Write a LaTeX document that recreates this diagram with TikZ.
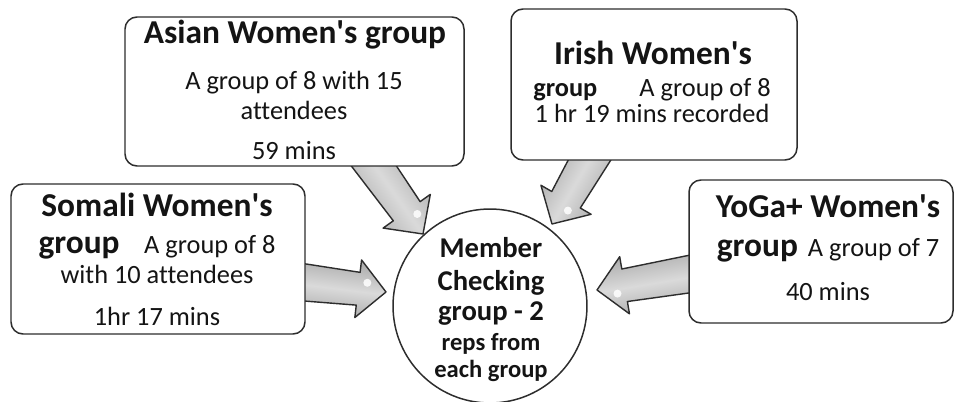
\documentclass[tikz,border=0pt]{standalone}
\usepackage{fontspec}
\setmainfont{Carlito}[Ligatures={NoCommon}]
\usetikzlibrary{calc,fit}

\definecolor{edgecol}{RGB}{45,45,45}
\definecolor{inkcol}{RGB}{20,20,20}
\definecolor{arrowdark}{RGB}{168,168,168}
\definecolor{arrowlight}{RGB}{218,218,218}

\newcommand{\titlefont}{\fontsize{19}{22}\selectfont\bfseries}
\newcommand{\bodyfont}{\fontsize{15}{18}\selectfont}
\newcommand{\apos}{\textquotesingle}

% broad shaded block arrow from a tail point to a tip point
% #1 tail coordinate, #2 tip coordinate, #3 shading angle
\newcommand{\blockarrow}[3]{%
  \coordinate (#1-neck) at ($(#2)!0.56cm!(#1)$);
  \path[arrowbody, shading angle=#3]
    ($(#1)!0.38cm!90:(#2)$) --
    ($(#1-neck)!0.33cm!90:(#2)$) --
    ($(#1-neck)!0.58cm!90:(#2)$) --
    (#2) --
    ($(#1-neck)!0.58cm!-90:(#2)$) --
    ($(#1-neck)!0.33cm!-90:(#2)$) --
    ($(#1)!0.38cm!-90:(#2)$) -- cycle;
  \fill[white, opacity=0.85]
    ($($(#1-neck)!0.3!(#2)$)!0.14cm!90:(#2)$) circle[radius=0.08cm];
}

\tikzset{
  panel/.style={draw=edgecol, line width=0.85pt, rounded corners=0.24cm,
    fill=white, inner sep=0pt},
  hub/.style={draw=edgecol, line width=0.85pt, circle, inner sep=0pt,
    minimum size=3.88cm},
  ttl/.style={font=\titlefont, text=inkcol, anchor=base, inner sep=0pt},
  txt/.style={font=\bodyfont, text=inkcol, anchor=base, inner sep=0pt},
  hubbig/.style={font=\fontsize{16.3}{19}\selectfont\bfseries, text=inkcol,
    anchor=base, inner sep=0pt},
  hubsmall/.style={font=\fontsize{14}{17}\selectfont\bfseries, text=inkcol,
    anchor=base, inner sep=0pt},
  arrowbody/.style={draw=edgecol, line width=0.8pt, line join=round,
    top color=arrowdark, bottom color=arrowdark, middle color=arrowlight},
}

\begin{document}
\begin{tikzpicture}[x=0.02cm, y=-0.02cm]
  \useasboundingbox (0,0) rectangle (954,402);

  % central circle
  \node[hub] (hub) at (490,306) {};

  % arrow end points
  \coordinate (asianTail)  at (363,150);
  \coordinate (asianTip)   at (423,234);
  \coordinate (irishTail)  at (596,148);
  \coordinate (irishTip)   at (552,224);
  \coordinate (somaliTail) at (292,281);
  \coordinate (somaliTip)  at (386,292);
  \coordinate (yogaTail)   at (702,272);
  \coordinate (yogaTip)    at (597,290);

  \blockarrow{asianTail}{asianTip}{-54.5}
  \blockarrow{irishTail}{irishTip}{59.5}
  \blockarrow{somaliTail}{somaliTip}{-7}
  \blockarrow{yogaTail}{yogaTip}{9.5}

  % group boxes
  \node[panel, fit={(125,17) (464,166)}] (asian) {};
  \node[panel, fit={(511,9) (797,160)}] (irish) {};
  \node[panel, fit={(11,184) (305,334)}] (somali) {};
  \node[panel, fit={(689,180) (953,323)}] (yoga) {};

  % Asian Women's group
  \node[ttl] (asian1) at (295,44) {Asian Women\apos s group};
  \node[txt] (asian2) at (294,90) {A group of 8 with 15};
  \node[txt] (asian3) at (294,120) {attendees};
  \node[txt] (asian4) at (294,160) {59 mins};

  % Irish Women's group
  \node[ttl] (irish1) at (653,65) {Irish Women\apos s};
  \node[txt] (irish2) at (652,97) {\textbf{group}\hspace{24pt}A group of 8};
  \node[txt] (irish3) at (652,123) {1 hr 19 mins recorded};

  % Somali Women's group
  \node[ttl] (somali1) at (157,216) {Somali Women\apos s};
  \node[txt] (somali2) at (157,254) {{\titlefont group}\hspace{14pt}A group of 8};
  \node[txt] (somali3) at (157,283) {with 10 attendees};
  \node[txt] (somali4) at (157,325) {1hr 17 mins};

  % YoGa+ Women's group
  \node[ttl] (yoga1) at (828,217) {YoGa+ Women\apos s};
  \node[txt] (yoga2) at (828,256) {{\titlefont group}\hspace{5.7pt}A group of 7};
  \node[txt] (yoga3) at (828,300) {40 mins};

  % member checking group
  \node[hubbig] (hub1) at (491,257) {Member};
  \node[hubbig] (hub2) at (491,290) {Checking};
  \node[hubbig] (hub3) at (491,320) {group - 2};
  \node[hubsmall] (hub4) at (491,350) {reps from};
  \node[hubsmall] (hub5) at (491,377) {each group};
\end{tikzpicture}
\end{document}
